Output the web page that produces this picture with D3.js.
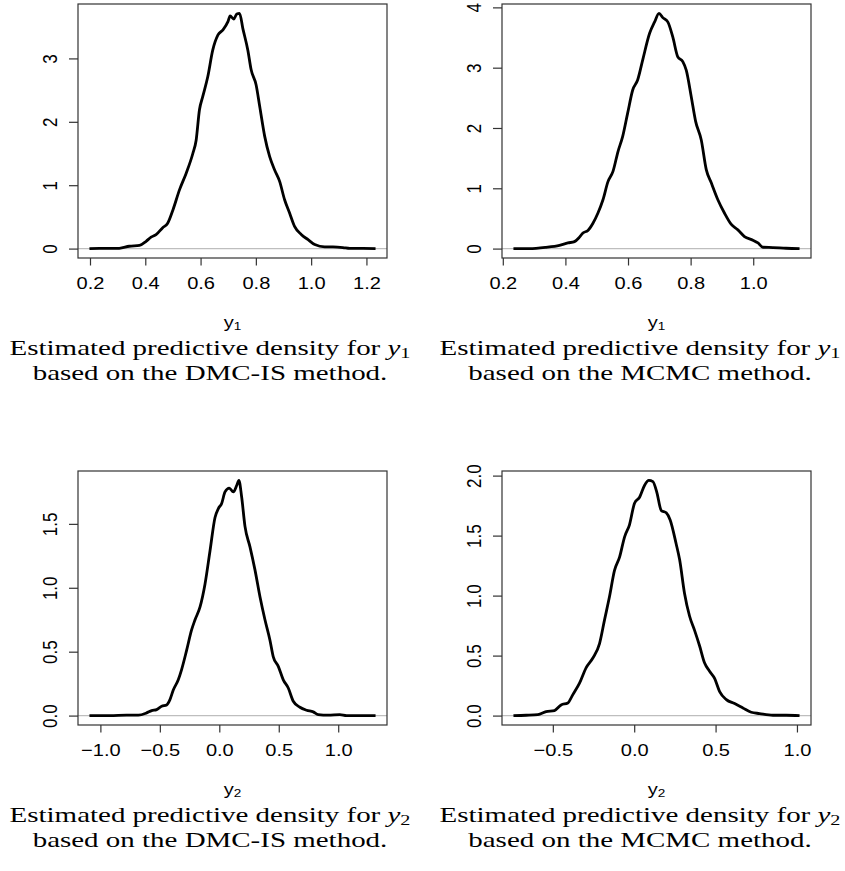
<!DOCTYPE html>
<html>
<head>
<meta charset="utf-8">
<script src="https://cdn.jsdelivr.net/npm/d3@7"></script>
<style>
  body { margin: 0; background: #fff; }
  svg { display: block; }
</style>
</head>
<body>
<svg width="845" height="871"></svg>
<script>
// Density estimates (x grid, density)

const y1DmcX = [0.198, 0.234, 0.270, 0.306, 0.342, 0.379, 0.403, 0.421, 0.439, 0.463, 0.481, 0.500, 0.524, 0.548, 0.572, 0.584,
  0.596, 0.608, 0.626, 0.644, 0.663, 0.681, 0.699, 0.707, 0.720, 0.731, 0.741, 0.753, 0.771, 0.783, 0.801, 0.814,
  0.832, 0.850, 0.868, 0.886, 0.904, 0.922, 0.940, 0.965, 0.989, 1.013, 1.049, 1.079, 1.115, 1.140, 1.188, 1.233];
const y1DmcDens = [0, 0.005, 0.002, 0.005, 0.037, 0.05, 0.115, 0.18, 0.22, 0.33, 0.40, 0.61, 0.93, 1.19, 1.50, 1.71,
  2.19, 2.40, 2.71, 3.13, 3.37, 3.45, 3.58, 3.67, 3.62, 3.70, 3.71, 3.47, 3.13, 2.82, 2.58, 2.24,
  1.77, 1.45, 1.24, 1.06, 0.77, 0.56, 0.35, 0.22, 0.14, 0.063, 0.026, 0.026, 0.016, 0.002, 0.002, 0];

const y1McmcX = [0.234, 0.285, 0.338, 0.381, 0.408, 0.429, 0.445, 0.456, 0.472, 0.488, 0.504, 0.520, 0.536, 0.552, 0.568,
  0.583, 0.599, 0.615, 0.631, 0.647, 0.669, 0.685, 0.699, 0.711, 0.727, 0.743, 0.759, 0.775, 0.786, 0.802,
  0.816, 0.834, 0.850, 0.866, 0.887, 0.908, 0.930, 0.951, 0.972, 0.999, 1.015, 1.031, 1.063, 1.105, 1.148];
const y1McmcDens = [0, 0, 0.022, 0.055, 0.094, 0.116, 0.19, 0.26, 0.30, 0.42, 0.59, 0.81, 1.11, 1.28, 1.61,
  1.86, 2.25, 2.63, 2.80, 3.13, 3.57, 3.76, 3.90, 3.83, 3.76, 3.51, 3.18, 3.10, 2.96, 2.52,
  2.11, 1.80, 1.31, 1.09, 0.81, 0.59, 0.40, 0.31, 0.20, 0.14, 0.094, 0.022, 0.017, 0.006, 0];

const y2DmcX = [-1.092, -0.919, -0.779, -0.681, -0.611, -0.569, -0.527, -0.485, -0.443, -0.415, -0.387, -0.345, -0.317,
  -0.275, -0.233, -0.204, -0.162, -0.120, -0.078, -0.036, -0.008, 0.020, 0.048, 0.084, 0.118, 0.146, 0.165,
  0.188, 0.216, 0.258, 0.300, 0.342, 0.384, 0.426, 0.454, 0.496, 0.538, 0.580, 0.622, 0.678, 0.734, 0.790,
  0.832, 0.916, 1.014, 1.070, 1.314];
const y2DmcDens = [0, 0, 0.003, 0.003, 0.021, 0.039, 0.047, 0.073, 0.083, 0.125, 0.20, 0.28, 0.36,
  0.51, 0.67, 0.75, 0.85, 1.03, 1.29, 1.55, 1.62, 1.66, 1.75, 1.78, 1.75, 1.80, 1.84,
  1.71, 1.48, 1.32, 1.14, 0.93, 0.75, 0.59, 0.46, 0.385, 0.28, 0.216, 0.112, 0.065, 0.042, 0.029,
  0.008, 0.003, 0.008, 0, 0];

const y2McmcX = [-0.742, -0.664, -0.592, -0.541, -0.490, -0.449, -0.408, -0.377, -0.336, -0.295, -0.254, -0.213,
  -0.182, -0.152, -0.121, -0.090, -0.059, -0.029, 0.002, 0.033, 0.064, 0.090, 0.115, 0.139, 0.166, 0.197,
  0.221, 0.258, 0.279, 0.309, 0.340, 0.371, 0.402, 0.432, 0.463, 0.494, 0.525, 0.566, 0.617, 0.668, 0.719,
  0.770, 0.852, 0.934, 1.016];
const y2McmcDens = [0, 0.003, 0.008, 0.033, 0.042, 0.089, 0.105, 0.175, 0.27, 0.40, 0.48, 0.60,
  0.80, 0.99, 1.21, 1.32, 1.49, 1.59, 1.77, 1.82, 1.92, 1.96, 1.95, 1.86, 1.71, 1.69,
  1.63, 1.43, 1.30, 1.02, 0.83, 0.71, 0.58, 0.44, 0.37, 0.31, 0.20, 0.133, 0.10, 0.064, 0.028,
  0.017, 0.003, 0.003, 0];

// Tick labels
const y1DmcXTicks = [0.2, 0.4, 0.6, 0.8, 1.0, 1.2];
const y1DmcYTicks = [0, 1, 2, 3];
const y1McmcXTicks = [0.2, 0.4, 0.6, 0.8, 1.0];
const y1McmcYTicks = [0, 1, 2, 3, 4];
const y2DmcXTicks = [-1.0, -0.5, 0.0, 0.5, 1.0];
const y2DmcYTicks = [0.0, 0.5, 1.0, 1.5];
const y2McmcXTicks = [-0.5, 0.0, 0.5, 1.0];
const y2McmcYTicks = [0.0, 0.5, 1.0, 1.5, 2.0];

// Panel layout

const svg = d3.select("svg");
const boxW = 309, boxH = 254;
const SX = 1.18; // the figure is a bit wider than tall

const panels = [
  { xs: y1DmcX, ds: y1DmcDens, xt: y1DmcXTicks, yt: y1DmcYTicks, yf: d3.format("d"), sub: "1", method: "DMC-IS", left: 78, top: 4, capX: 210 },
  { xs: y1McmcX, ds: y1McmcDens, xt: y1McmcXTicks, yt: y1McmcYTicks, yf: d3.format("d"), sub: "1", method: "MCMC", left: 502, top: 4, capX: 640 },
  { xs: y2DmcX, ds: y2DmcDens, xt: y2DmcXTicks, yt: y2DmcYTicks, yf: d3.format(".1f"), sub: "2", method: "DMC-IS", left: 78, top: 471, capX: 210 },
  { xs: y2McmcX, ds: y2McmcDens, xt: y2McmcXTicks, yt: y2McmcYTicks, yf: d3.format(".1f"), sub: "2", method: "MCMC", left: 502, top: 471, capX: 640 }
];

// R style range: data range stretched by 4% on each side
function rRange(lo, hi) {
  const p = (hi - lo) * 0.04;
  return [lo - p, hi + p];
}

panels.forEach(p => {
  const pts = p.xs.map((v, i) => ({ x: v, d: p.ds[i] }));

  const x = d3.scaleLinear()
    .domain(rRange(d3.min(pts, d => d.x), d3.max(pts, d => d.x)))
    .range([p.left, p.left + boxW]);

  const y = d3.scaleLinear()
    .domain(rRange(0, d3.max(pts, d => d.d)))
    .range([p.top + boxH, p.top]);

  const g = svg.append("g");

  // zero line
  g.append("line")
    .attr("x1", x.range()[0]).attr("x2", x.range()[1])
    .attr("y1", y(0)).attr("y2", y(0))
    .attr("stroke", "#bebebe")
    .attr("stroke-width", 1.2);

  // density curve
  g.append("path")
    .datum(pts)
    .attr("fill", "none")
    .attr("stroke", "#000")
    .attr("stroke-width", 2.8)
    .attr("stroke-linejoin", "round")
    .attr("d", d3.line().x(d => x(d.x)).y(d => y(d.d)).curve(d3.curveMonotoneX));

  // box
  g.append("rect")
    .attr("x", p.left).attr("y", p.top)
    .attr("width", boxW).attr("height", boxH)
    .attr("fill", "none")
    .attr("stroke", "#333")
    .attr("stroke-width", 1.2);

  // x axis
  const gx = g.append("g")
    .attr("transform", `translate(0,${p.top + boxH})`)
    .call(d3.axisBottom(x).tickValues(p.xt).tickSize(7.5).tickFormat(d3.format(".1f")))
    .call(a => a.select(".domain").remove());
  gx.selectAll(".tick line").attr("stroke", "#333").attr("stroke-width", 1.2);
  gx.selectAll(".tick text")
    .attr("y", 25).attr("dy", "0.35em")
    .attr("transform", `scale(${SX},1)`)
    .attr("fill", "#000")
    .attr("font-family", "'Liberation Sans', Arial, sans-serif")
    .attr("font-size", 17);

  // y axis
  const gy = g.append("g")
    .attr("transform", `translate(${p.left},0)`)
    .call(d3.axisLeft(y).tickValues(p.yt).tickSize(9).tickFormat(p.yf))
    .call(a => a.select(".domain").remove());
  gy.selectAll(".tick line").attr("stroke", "#333").attr("stroke-width", 1.2);
  gy.selectAll(".tick text")
    .attr("x", 0).attr("y", 0).attr("dy", "0.35em")
    .attr("text-anchor", "middle")
    .attr("transform", `translate(-28,0) scale(${SX},1) rotate(-90)`)
    .attr("fill", "#000")
    .attr("font-family", "'Liberation Sans', Arial, sans-serif")
    .attr("font-size", 17);

  // axis title
  const cx = p.left + boxW / 2;
  const t = g.append("text")
    .attr("transform", `translate(${cx},${p.top + boxH + 70}) scale(${SX},1)`)
    .attr("text-anchor", "middle")
    .attr("font-family", "'Liberation Sans', Arial, sans-serif")
    .attr("font-size", 17);
  t.append("tspan").text("y");
  t.append("tspan").attr("font-size", 11.5).attr("dy", 2).text(p.sub);

  // caption (two lines)
  const capBase = p.top + boxH + 97;
  const c1 = g.append("text")
    .attr("text-anchor", "middle")
    .attr("font-family", "'Liberation Serif', 'Times New Roman', serif")
    .attr("font-size", 21.5);
  c1.append("tspan").text("Estimated predictive density for ");
  c1.append("tspan").attr("font-style", "italic").text("y");
  c1.append("tspan").attr("font-size", 15).attr("dy", 3).text(p.sub);

  const c2 = g.append("text")
    .attr("text-anchor", "middle")
    .attr("font-family", "'Liberation Serif', 'Times New Roman', serif")
    .attr("font-size", 21.5)
    .text(`based on the ${p.method} method.`);

  const w = c1.node().getComputedTextLength();
  const sx = 401 / w;
  c1.attr("transform", `translate(${p.capX},${capBase}) scale(${sx},1)`);
  c2.attr("transform", `translate(${p.capX},${capBase + 25}) scale(${sx},1)`);
});
</script>
</body>
</html>
